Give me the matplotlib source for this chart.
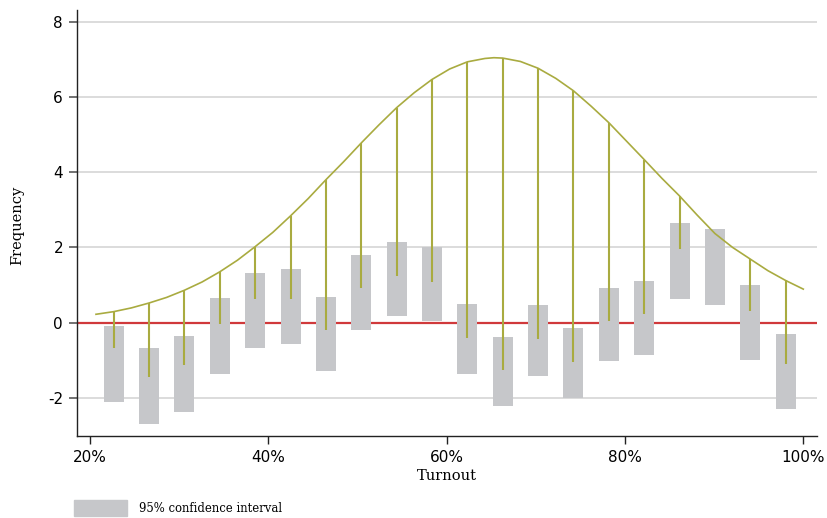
import matplotlib.pyplot as plt
from matplotlib.patches import Rectangle

# bin centres (turnout, %)
bin_centers = [22.65, 26.62, 30.59, 34.55, 38.52, 42.49, 46.45, 50.42, 54.39, 58.35,
               62.32, 66.29, 70.25, 74.22, 78.19, 82.15, 86.12, 90.09, 94.05, 98.02]
# expected sqrt-frequency (top of each hanging stem)
expected = [0.29, 0.52, 0.86, 1.35, 2.02, 2.84, 3.80, 4.78, 5.72, 6.47,
            6.94, 7.04, 6.77, 6.17, 5.32, 4.34, 3.37, 2.37, 1.69, 1.12]
# bottom of each hanging stem
hang_bottom = [-0.69, -1.46, -1.12, -0.04, 0.62, 0.62, -0.19, 0.91, 1.25, 1.09,
               -0.41, -1.26, -0.44, -1.04, 0.03, 0.23, 1.96, 2.37, 0.31, -1.11]
# 95% confidence interval
ci_high = [-0.09, -0.69, -0.35, 0.66, 1.32, 1.42, 0.68, 1.80, 2.15, 2.01,
           0.50, -0.38, 0.46, -0.14, 0.93, 1.11, 2.65, 2.49, 1.00, -0.31]
ci_low = [-2.12, -2.70, -2.37, -1.36, -0.69, -0.58, -1.30, -0.19, 0.17, 0.05,
          -1.38, -2.21, -1.43, -2.02, -1.02, -0.87, 0.64, 0.47, -1.01, -2.31]

# fitted curve
curve_x = [20.67, 22.65, 24.64, 26.62, 28.60, 30.59, 32.57, 34.55, 36.54, 38.52,
           40.50, 42.49, 44.47, 46.45, 48.44, 50.42, 52.40, 54.39, 56.37, 58.35,
           60.34, 62.32, 64.30, 65.30, 66.29, 68.27, 70.25, 72.24, 74.22, 76.20, 78.19,
           80.17, 82.15, 84.14, 86.12, 88.10, 90.09, 92.07, 94.05, 96.04, 98.02, 100.0]
curve_y = [0.22, 0.29, 0.39, 0.52, 0.67, 0.86, 1.08, 1.35, 1.66, 2.02,
           2.40, 2.84, 3.30, 3.80, 4.28, 4.78, 5.26, 5.72, 6.12, 6.47,
           6.75, 6.94, 7.03, 7.05, 7.04, 6.95, 6.77, 6.50, 6.17, 5.76, 5.32,
           4.83, 4.34, 3.84, 3.37, 2.86, 2.37, 2.00, 1.69, 1.38, 1.12, 0.89]

yticks = [-2, 0, 2, 4, 6, 8]
xticks = [20, 40, 60, 80, 100]

olive = '#a9ab40'
bar_grey = '#c6c7ca'

fig = plt.figure(figsize=(8.27, 5.18), dpi=100)
ax = fig.add_axes([0.0931, 0.1583, 0.8944, 0.8224])

for y in yticks:
    if y != 0:
        ax.axhline(y, color='#d6d6d6', lw=1.2, zorder=0)
ax.axhline(0, color='#d0393b', lw=1.6, zorder=1)

width = 2.24
for x, lo, hi in zip(bin_centers, ci_low, ci_high):
    ax.bar(x, hi - lo, bottom=lo, width=width, color=bar_grey, zorder=2)

ax.vlines(bin_centers, hang_bottom, expected, color=olive, lw=1.5, zorder=3)
ax.plot(curve_x, curve_y, color=olive, lw=1.2, zorder=4, solid_joinstyle='round')

ax.set_xlim(18.54, 101.5)
ax.set_ylim(-3.02, 8.32)
ax.set_yticks(yticks)
ax.set_yticklabels([str(v) for v in yticks], fontfamily='DejaVu Sans', fontsize=11)
ax.set_xticks(xticks)
ax.set_xticklabels([f'{v}%' for v in xticks], fontfamily='DejaVu Sans', fontsize=11)
ax.tick_params(axis='y', length=6, width=1.3, color='#666666', pad=4)
ax.tick_params(axis='x', length=6, width=1.0, color='#222222', pad=4)

for s in ['top', 'right']:
    ax.spines[s].set_visible(False)
ax.spines['left'].set_linewidth(1.0)
ax.spines['bottom'].set_linewidth(1.0)
ax.spines['left'].set_color('#222222')
ax.spines['bottom'].set_color('#222222')

ax.set_ylabel('Frequency', fontfamily='DejaVu Serif', fontsize=10.5, va='center')
ax.yaxis.set_label_coords(-0.081, 0.495)
ax.set_xlabel('Turnout', fontfamily='DejaVu Serif', fontsize=10.5, labelpad=3)

# legend below the plot
fig.patches.append(Rectangle((74 / 827, 1 - 516 / 518), 53 / 827, 16 / 518,
                             transform=fig.transFigure, color=bar_grey))
fig.text(139 / 827, 1 - 508 / 518, '95% confidence interval',
         fontfamily='DejaVu Serif', fontsize=8.4, va='center')

fig.savefig('out.png', dpi=100)
